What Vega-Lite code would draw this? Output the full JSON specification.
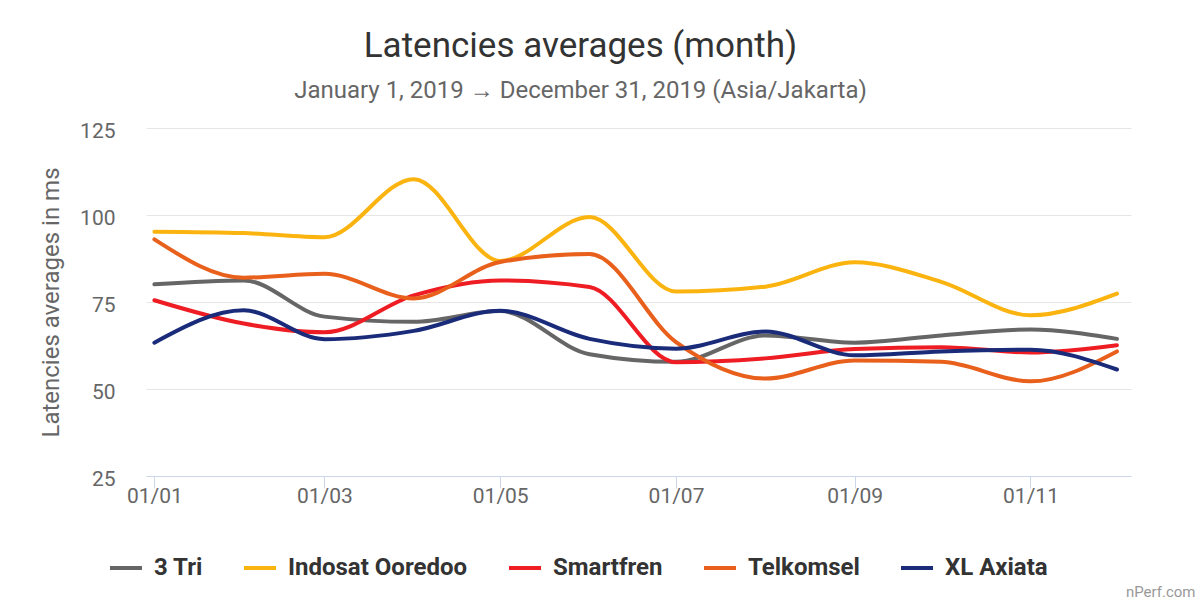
{
  "$schema": "https://vega.github.io/schema/vega-lite/v6.json",
  "autosize": "none",
  "width": 985,
  "height": 348,
  "padding": {"left": 146, "top": 128, "right": 72, "bottom": 126},
  "background": "#ffffff",
  "config": {
    "font": "Roboto",
    "view": {"stroke": null}
  },
  "title": {
    "text": "Latencies averages (month)",
    "subtitle": "January 1, 2019 → December 31, 2019 (Asia/Jakarta)",
    "anchor": "middle",
    "frame": "group",
    "dx": -58,
    "offset": 17,
    "font": "Roboto",
    "fontSize": 35,
    "fontWeight": "normal",
    "color": "#333333",
    "subtitleFont": "Roboto",
    "subtitleFontSize": 24,
    "subtitleColor": "#666666",
    "subtitlePadding": 15
  },
  "data": {
    "values": [
      {"date": "2019-01-01", "carrier": "3 Tri", "latency": 80.1},
      {"date": "2019-02-01", "carrier": "3 Tri", "latency": 81.2},
      {"date": "2019-03-01", "carrier": "3 Tri", "latency": 70.8},
      {"date": "2019-04-01", "carrier": "3 Tri", "latency": 69.3},
      {"date": "2019-05-01", "carrier": "3 Tri", "latency": 72.4},
      {"date": "2019-06-01", "carrier": "3 Tri", "latency": 60.0},
      {"date": "2019-07-01", "carrier": "3 Tri", "latency": 57.8},
      {"date": "2019-08-01", "carrier": "3 Tri", "latency": 65.4},
      {"date": "2019-09-01", "carrier": "3 Tri", "latency": 63.3},
      {"date": "2019-10-01", "carrier": "3 Tri", "latency": 65.4},
      {"date": "2019-11-01", "carrier": "3 Tri", "latency": 67.1},
      {"date": "2019-12-01", "carrier": "3 Tri", "latency": 64.4},
      {"date": "2019-01-01", "carrier": "Indosat Ooredoo", "latency": 95.2},
      {"date": "2019-02-01", "carrier": "Indosat Ooredoo", "latency": 94.8},
      {"date": "2019-03-01", "carrier": "Indosat Ooredoo", "latency": 93.6},
      {"date": "2019-04-01", "carrier": "Indosat Ooredoo", "latency": 110.3},
      {"date": "2019-05-01", "carrier": "Indosat Ooredoo", "latency": 86.8},
      {"date": "2019-06-01", "carrier": "Indosat Ooredoo", "latency": 99.4},
      {"date": "2019-07-01", "carrier": "Indosat Ooredoo", "latency": 78.0},
      {"date": "2019-08-01", "carrier": "Indosat Ooredoo", "latency": 79.4},
      {"date": "2019-09-01", "carrier": "Indosat Ooredoo", "latency": 86.4},
      {"date": "2019-10-01", "carrier": "Indosat Ooredoo", "latency": 80.8},
      {"date": "2019-11-01", "carrier": "Indosat Ooredoo", "latency": 71.2},
      {"date": "2019-12-01", "carrier": "Indosat Ooredoo", "latency": 77.4},
      {"date": "2019-01-01", "carrier": "Smartfren", "latency": 75.5},
      {"date": "2019-02-01", "carrier": "Smartfren", "latency": 68.8},
      {"date": "2019-03-01", "carrier": "Smartfren", "latency": 66.3},
      {"date": "2019-04-01", "carrier": "Smartfren", "latency": 76.9},
      {"date": "2019-05-01", "carrier": "Smartfren", "latency": 81.2},
      {"date": "2019-06-01", "carrier": "Smartfren", "latency": 79.3},
      {"date": "2019-07-01", "carrier": "Smartfren", "latency": 57.7},
      {"date": "2019-08-01", "carrier": "Smartfren", "latency": 58.8},
      {"date": "2019-09-01", "carrier": "Smartfren", "latency": 61.5},
      {"date": "2019-10-01", "carrier": "Smartfren", "latency": 62.0},
      {"date": "2019-11-01", "carrier": "Smartfren", "latency": 60.5},
      {"date": "2019-12-01", "carrier": "Smartfren", "latency": 62.6},
      {"date": "2019-01-01", "carrier": "Telkomsel", "latency": 93.0},
      {"date": "2019-02-01", "carrier": "Telkomsel", "latency": 82.0},
      {"date": "2019-03-01", "carrier": "Telkomsel", "latency": 83.1},
      {"date": "2019-04-01", "carrier": "Telkomsel", "latency": 76.0},
      {"date": "2019-05-01", "carrier": "Telkomsel", "latency": 86.5},
      {"date": "2019-06-01", "carrier": "Telkomsel", "latency": 88.8},
      {"date": "2019-07-01", "carrier": "Telkomsel", "latency": 63.5},
      {"date": "2019-08-01", "carrier": "Telkomsel", "latency": 53.0},
      {"date": "2019-09-01", "carrier": "Telkomsel", "latency": 58.2},
      {"date": "2019-10-01", "carrier": "Telkomsel", "latency": 57.8},
      {"date": "2019-11-01", "carrier": "Telkomsel", "latency": 52.2},
      {"date": "2019-12-01", "carrier": "Telkomsel", "latency": 60.8},
      {"date": "2019-01-01", "carrier": "XL Axiata", "latency": 63.3},
      {"date": "2019-02-01", "carrier": "XL Axiata", "latency": 72.6},
      {"date": "2019-03-01", "carrier": "XL Axiata", "latency": 64.3},
      {"date": "2019-04-01", "carrier": "XL Axiata", "latency": 66.7},
      {"date": "2019-05-01", "carrier": "XL Axiata", "latency": 72.5},
      {"date": "2019-06-01", "carrier": "XL Axiata", "latency": 64.4},
      {"date": "2019-07-01", "carrier": "XL Axiata", "latency": 61.6},
      {"date": "2019-08-01", "carrier": "XL Axiata", "latency": 66.5},
      {"date": "2019-09-01", "carrier": "XL Axiata", "latency": 59.7},
      {"date": "2019-10-01", "carrier": "XL Axiata", "latency": 60.8},
      {"date": "2019-11-01", "carrier": "XL Axiata", "latency": 61.3},
      {"date": "2019-12-01", "carrier": "XL Axiata", "latency": 55.6}
    ]
  },
  "mark": {"type": "line", "interpolate": "monotone", "strokeWidth": 4, "strokeCap": "round", "strokeJoin": "round"},
  "encoding": {
    "x": {
      "field": "date",
      "type": "temporal",
      "scale": {
        "type": "utc",
        "domain": [
          {"year": 2018, "month": 12, "date": 29, "hours": 2, "utc": true},
          {"year": 2019, "month": 12, "date": 5, "hours": 21, "utc": true}
        ],
        "nice": false
      },
      "axis": {
        "values": [
          {"year": 2019, "month": 1, "date": 1, "utc": true},
          {"year": 2019, "month": 3, "date": 1, "utc": true},
          {"year": 2019, "month": 5, "date": 1, "utc": true},
          {"year": 2019, "month": 7, "date": 1, "utc": true},
          {"year": 2019, "month": 9, "date": 1, "utc": true},
          {"year": 2019, "month": 11, "date": 1, "utc": true}
        ],
        "labelExpr": "utcFormat(datum.value, '%d/%m')",
        "grid": false,
        "domain": true,
        "domainColor": "#ccd6eb",
        "domainWidth": 1,
        "ticks": true,
        "tickColor": "#ccd6eb",
        "tickSize": 12,
        "tickWidth": 1,
        "labelPadding": -3,
        "labelFont": "Roboto",
        "labelFontSize": 21,
        "labelColor": "#666666",
        "labelFlush": false,
        "labelOverlap": false,
        "title": "nPerf.com",
        "titleFont": "Roboto",
        "titleFontSize": 15,
        "titleFontWeight": "normal",
        "titleColor": "#999999",
        "titleAnchor": "end",
        "titleAlign": "right",
        "titleBaseline": "middle",
        "titleX": 1049,
        "titleY": 115
      }
    },
    "y": {
      "field": "latency",
      "type": "quantitative",
      "scale": {"domain": [25, 125], "nice": false, "zero": false},
      "axis": {
        "values": [25, 50, 75, 100, 125],
        "domain": false,
        "ticks": false,
        "grid": true,
        "gridColor": "#e6e6e6",
        "gridWidth": 1,
        "labelPadding": 31,
        "labelOffset": 3,
        "labelFont": "Roboto",
        "labelFontSize": 21,
        "labelColor": "#666666",
        "title": "Latencies averages in ms",
        "titleFont": "Roboto",
        "titleFontSize": 24,
        "titleFontWeight": "normal",
        "titleColor": "#666666",
        "titleAngle": 270,
        "titleAlign": "center",
        "titleBaseline": "middle",
        "titleX": -95,
        "titleY": 174
      }
    },
    "color": {
      "field": "carrier",
      "type": "nominal",
      "scale": {
        "domain": ["3 Tri", "Indosat Ooredoo", "Smartfren", "Telkomsel", "XL Axiata"],
        "range": ["#666666", "#fbb40f", "#ee1d23", "#e8601b", "#1a2b7a"]
      },
      "legend": {
        "title": null,
        "orient": "none",
        "direction": "horizontal",
        "columns": 5,
        "legendX": -38,
        "legendY": 422,
        "symbolType": "stroke",
        "symbolSize": 1024,
        "symbolStrokeWidth": 4,
        "labelOffset": 10,
        "columnPadding": 33,
        "labelFont": "Roboto",
        "labelFontSize": 24,
        "labelFontWeight": "bold",
        "labelColor": "#333333",
        "labelLimit": 400
      }
    }
  }
}
